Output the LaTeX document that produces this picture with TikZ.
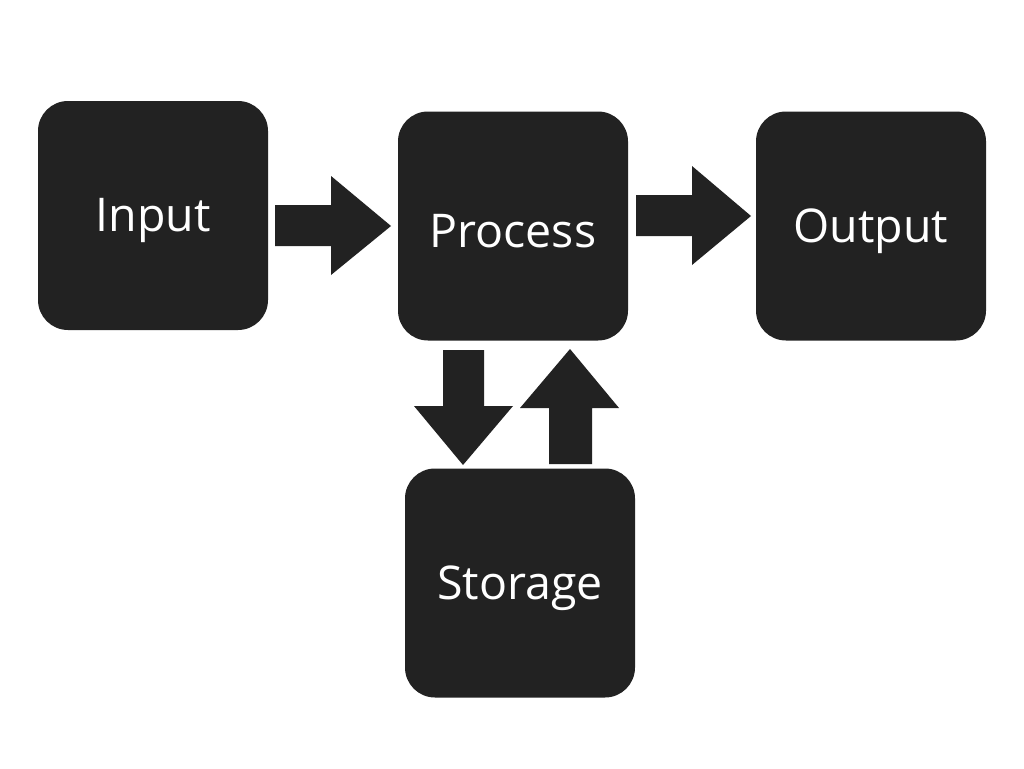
\documentclass[tikz,border=0pt]{standalone}
\usepackage{fontspec}
\setmainfont{Open Sans}
\definecolor{boxc}{HTML}{222222}
\begin{document}
\begin{tikzpicture}[x=1pt,y=-1pt,
  blk/.style={fill=boxc, draw=none, rounded corners=30pt, minimum width=230pt, minimum height=229pt, inner sep=0pt},
  lbl/.style={text=white, inner sep=0pt, font=\fontsize{46.5}{54}\selectfont},
  arr/.style={fill=boxc, draw=none}]
\useasboundingbox (0,0) rectangle (1024,768);
\fill[white] (0,0) rectangle (1024,768);
\node[blk] (input) at (153,215.5) {};
\node[blk] (process) at (513,226) {};
\node[blk] (output) at (871,226) {};
\node[blk] (storage) at (520,583) {};
\node[lbl] (inputT) at ([yshift=-5pt]input.center) {Input};
\node[lbl] (processT) at ([yshift=-5pt]process.center) {Process};
\node[lbl] (outputT) at ([yshift=-5pt]output.center) {Output};
\node[lbl] (storageT) at ([yshift=-5pt]storage.center) {Storage};
% Input -> Process
\fill[arr] (275,205) -- (331,205) -- (331,176) -- (391,226) -- (331,275) -- (331,246) -- (275,246) -- cycle;
% Process -> Output
\fill[arr] (636,195) -- (692,195) -- (692,166) -- (751,216) -- (692,265) -- (692,236) -- (636,236) -- cycle;
% Process -> Storage (down)
\fill[arr] (443,350) -- (484,350) -- (484,406) -- (513,406) -- (463,465) -- (414,406) -- (443,406) -- cycle;
% Storage -> Process (up)
\fill[arr] (549,464) -- (592,464) -- (592,408) -- (619,408) -- (570,349) -- (520,408) -- (549,408) -- cycle;
\end{tikzpicture}
\end{document}
